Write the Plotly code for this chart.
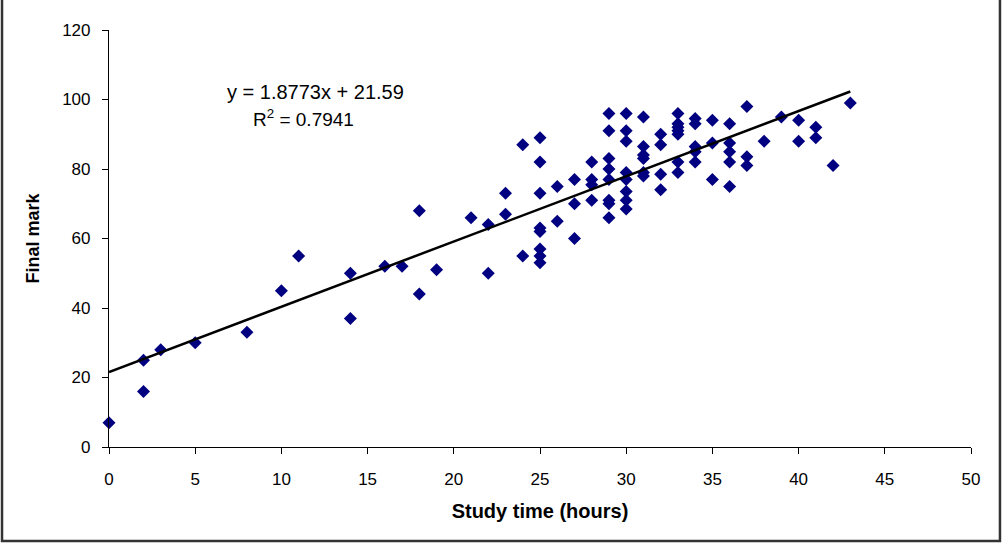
import plotly.graph_objects as go

study_hours = [0, 2, 2, 3, 5, 8, 10, 11, 14, 14, 16, 17, 18, 18, 19,
               21, 22, 22, 23, 23, 24, 24,
               25, 25, 25, 25, 25, 25, 25, 25,
               26, 26, 27, 27, 27, 28, 28, 28, 28,
               29, 29, 29, 29, 29, 29, 29, 29,
               30, 30, 30, 30, 30, 30, 30, 30,
               31, 31, 31, 31, 31, 31,
               32, 32, 32, 32,
               33, 33, 33, 33, 33, 33, 33,
               34, 34, 34, 34, 34,
               35, 35, 35,
               36, 36, 36, 36, 36,
               37, 37, 37, 38, 39, 40, 40, 41, 41, 42, 43]
final_mark = [7, 25, 16, 28, 30, 33, 45, 55, 50, 37, 52, 52, 68, 44, 51,
              66, 64, 50, 73, 67, 87, 55,
              89, 82, 73, 63, 62, 57, 55, 53,
              75, 65, 77, 70, 60, 82, 77, 75.5, 71,
              96, 91, 83, 80, 77, 71, 70, 66,
              96, 91, 88, 79, 77, 73.5, 71, 68.5,
              95, 86.5, 84, 83, 79, 78,
              90, 87, 78.5, 74,
              96, 93, 92, 91, 90, 82, 79,
              94.5, 93, 86.5, 85, 82,
              94, 87.5, 77,
              93, 87.5, 85, 82, 75,
              98, 83.5, 81, 88, 95, 94, 88, 92, 89, 81, 99]

slope = 1.8773
intercept = 21.59
trend_x = [0, 43]
trend_y = [slope * v + intercept for v in trend_x]

x_ticks = [0, 5, 10, 15, 20, 25, 30, 35, 40, 45, 50]
y_ticks = [0, 20, 40, 60, 80, 100, 120]

FONT = "Liberation Sans, Arial, sans-serif"

fig = go.Figure()
fig.add_trace(go.Scatter(x=study_hours, y=final_mark, mode="markers",
                         marker=dict(symbol="diamond", size=10, color="#000080",
                                     line=dict(width=0)),
                         showlegend=False, cliponaxis=False))
fig.add_trace(go.Scatter(x=trend_x, y=trend_y, mode="lines",
                         line=dict(color="black", width=2.5),
                         showlegend=False))

fig.add_annotation(x=12.0, y=102.2, xref="x", yref="y",
                   text="y = 1.8773x + 21.59", showarrow=False,
                   font=dict(family=FONT, size=20, color="black"))
fig.add_annotation(x=11.3, y=94.7, xref="x", yref="y",
                   text="R<sup>2</sup> = 0.7941", showarrow=False,
                   font=dict(family=FONT, size=19, color="black"))

# outer frame
fig.add_shape(type="rect", xref="paper", yref="paper",
              x0=-0.1241, x1=1.0336, y0=-0.2254, y1=1.075,
              line=dict(color="#333333", width=2.5))

axis_common = dict(showgrid=False, zeroline=False, showline=True,
                   linecolor="black", linewidth=1.2, ticks="outside",
                   ticklen=6, tickcolor="black", tickwidth=1.2,
                   tickfont=dict(family=FONT, size=17, color="black"))

fig.update_xaxes(range=[0, 50], tickvals=x_ticks, ticktext=[str(v) for v in x_ticks],
                 ticklabelstandoff=10,
                 title=dict(text="<b>Study time (hours)</b>", standoff=16,
                            font=dict(family=FONT, size=20, color="black")),
                 **axis_common)
fig.update_yaxes(range=[0, 120], tickvals=y_ticks, ticktext=[str(v) for v in y_ticks],
                 ticklabelstandoff=8,
                 title=dict(text="<b>Final mark</b>", standoff=17,
                            font=dict(family=FONT, size=18, color="black")),
                 **axis_common)

fig.update_layout(width=1002, height=548,
                  margin=dict(l=109, r=31, t=30, b=101),
                  paper_bgcolor="white", plot_bgcolor="white")

fig.write_html("out.html", config={"displayModeBar": False},
               post_script="document.body.style.margin='0px';document.body.style.overflow='hidden';")
